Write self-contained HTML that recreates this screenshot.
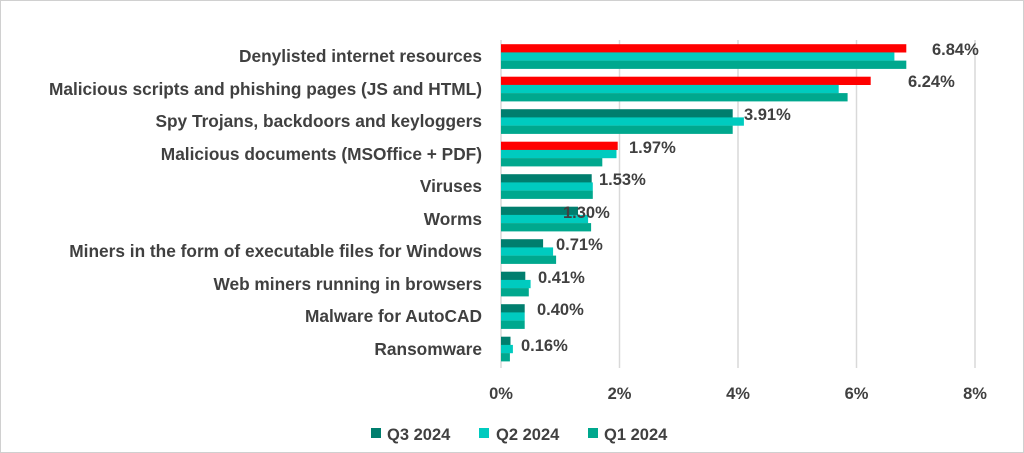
<!DOCTYPE html>
<html><head><style>
body{margin:0;background:#fff}
svg{display:block}
text{font-family:"Liberation Sans",sans-serif;font-weight:bold;fill:#404040;font-size:15.5px}
.cat text{font-size:17.3px}
.ax text{font-size:16.5px}
.r{fill:#ff0000}.a{fill:#007e6e}.b{fill:#00cbbf}.c{fill:#00a88e}
</style></head><body>
<svg width="1024" height="453" xmlns="http://www.w3.org/2000/svg">
<rect x="0.5" y="0.5" width="1023" height="452" fill="#fff" stroke="#d0d0d0"/>
<g stroke="#d9d9d9" stroke-width="1.5">
<line x1="501" y1="40" x2="501" y2="368"/><line x1="619.5" y1="40" x2="619.5" y2="368"/>
<line x1="738" y1="40" x2="738" y2="368"/><line x1="856.5" y1="40" x2="856.5" y2="368"/>
<line x1="975" y1="40" x2="975" y2="368"/>
</g>
<g>
<rect class="r" x="501" y="44.2" width="405.3" height="8.3"/><rect class="b" x="501" y="52.4" width="393.4" height="8.3"/><rect class="c" x="501" y="60.6" width="405.3" height="8.3"/>
<rect class="r" x="501" y="76.7" width="369.7" height="8.3"/><rect class="b" x="501" y="84.9" width="337.7" height="8.3"/><rect class="c" x="501" y="93.1" width="346.6" height="8.3"/>
<rect class="a" x="501" y="109.2" width="231.7" height="8.3"/><rect class="b" x="501" y="117.4" width="242.9" height="8.3"/><rect class="c" x="501" y="125.6" width="231.7" height="8.3"/>
<rect class="r" x="501" y="141.7" width="116.7" height="8.3"/><rect class="b" x="501" y="149.9" width="115.5" height="8.3"/><rect class="c" x="501" y="158.1" width="101.3" height="8.3"/>
<rect class="a" x="501" y="174.2" width="90.7" height="8.3"/><rect class="b" x="501" y="182.4" width="91.8" height="8.3"/><rect class="c" x="501" y="190.6" width="91.8" height="8.3"/>
<rect class="a" x="501" y="206.7" width="77" height="8.3"/><rect class="b" x="501" y="214.9" width="87.1" height="8.3"/><rect class="c" x="501" y="223.1" width="90.1" height="8.3"/>
<rect class="a" x="501" y="239.2" width="42.1" height="8.3"/><rect class="b" x="501" y="247.4" width="52.1" height="8.3"/><rect class="c" x="501" y="255.6" width="55.1" height="8.3"/>
<rect class="a" x="501" y="271.7" width="24.3" height="8.3"/><rect class="b" x="501" y="279.9" width="29.6" height="8.3"/><rect class="c" x="501" y="288.1" width="27.8" height="8.3"/>
<rect class="a" x="501" y="304.2" width="23.7" height="8.3"/><rect class="b" x="501" y="312.4" width="23.7" height="8.3"/><rect class="c" x="501" y="320.6" width="23.7" height="8.3"/>
<rect class="a" x="501" y="336.7" width="9.5" height="8.3"/><rect class="b" x="501" y="344.9" width="11.9" height="8.3"/><rect class="c" x="501" y="353.1" width="8.9" height="8.3"/>
</g>
<g class="cat" text-anchor="end">
<text x="482" y="62">Denylisted internet resources</text>
<text x="482" y="95">Malicious scripts and phishing pages (JS and HTML)</text>
<text x="482" y="127">Spy Trojans, backdoors and keyloggers</text>
<text x="482" y="160">Malicious documents (MSOffice + PDF)</text>
<text x="482" y="192">Viruses</text>
<text x="482" y="225">Worms</text>
<text x="482" y="257">Miners in the form of executable files for Windows</text>
<text x="482" y="290">Web miners running in browsers</text>
<text x="482" y="322">Malware for AutoCAD</text>
<text x="482" y="355">Ransomware</text>
</g>
<g class="ax" text-anchor="middle">
<text x="501" y="399">0%</text><text x="619.5" y="399">2%</text><text x="738" y="399">4%</text><text x="856.5" y="399">6%</text><text x="975" y="399">8%</text>
</g>
<g class="ax">
<rect x="371" y="428" width="10" height="10" fill="#007e6e"/><text x="387" y="440">Q3 2024</text>
<rect x="479" y="428" width="10" height="10" fill="#00cbbf"/><text x="496" y="440">Q2 2024</text>
<rect x="588" y="428" width="10" height="10" fill="#00a88e"/><text x="604" y="440">Q1 2024</text>
</g>
<g class="ax">
<text x="932" y="55">6.84%</text>
<text x="908" y="87">6.24%</text>
<text x="744" y="120">3.91%</text>
<text x="629" y="153">1.97%</text>
<text x="599" y="185">1.53%</text>
<text x="563" y="218">1.30%</text>
<text x="556" y="250">0.71%</text>
<text x="538" y="283">0.41%</text>
<text x="537" y="315">0.40%</text>
<text x="521" y="351">0.16%</text>
</g>
</svg>
</body></html>
